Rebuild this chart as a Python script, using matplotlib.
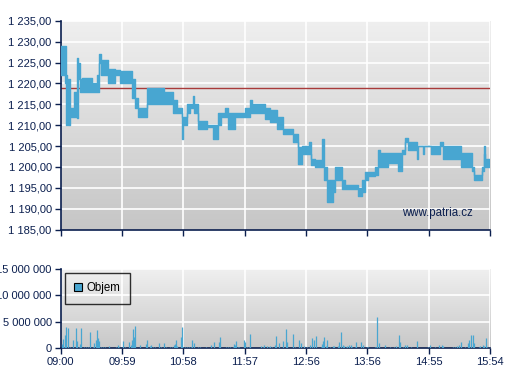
import numpy as np
import matplotlib
matplotlib.use("Agg")
import matplotlib.pyplot as plt
from matplotlib.patches import Patch

plt.rcParams['font.family'] = ['Liberation Sans', 'DejaVu Sans']

# ---------------- data ----------------
# time axis: minutes after 09:00 (session 09:00 - 15:54)
time_labels = ["09:00", "09:59", "10:58", "11:57", "12:56", "13:56", "14:55", "15:54"]
session_minutes = 414
ref_price = 1219.0

# price path as step segments: start minute, low and high of the trading range within the segment
seg_t = [0, 4, 5.5, 6.5, 7.5, 8.5, 12.5, 15.5, 16.5, 18.5,
         20.5, 30, 35, 36.5, 39, 46, 52, 57, 68.5, 71.5,
         74.5, 83, 100, 108, 112, 116.5, 117.5, 121.5, 124.5, 128,
         129, 132, 141, 146.5, 152, 155, 158.5, 161, 168, 177.5,
         182.5, 184.5, 194, 197, 202, 209, 214, 224, 229, 232.5,
         239, 241, 245, 252, 253.5, 256.5, 262.5, 264.5, 271, 274,
         286.5, 290.5, 293.5, 296.5, 303, 306, 308, 316, 325, 329,
         332, 335, 343.5, 345, 349, 350.5, 357, 363, 365.5, 368.5,
         386, 396.5, 398.5, 406, 408, 409.5, 414]
seg_lo = [1222, 1220, 1210, 1220, 1210, 1212, 1212, 1211.7, 1221, 1218,
          1218, 1218, 1218, 1225, 1222, 1220, 1222, 1220, 1216.6, 1214,
          1212, 1215, 1215, 1213, 1213, 1206.8, 1210, 1213, 1214, 1214,
          1213, 1209, 1209.5, 1206.8, 1210, 1212, 1212, 1209, 1212, 1212,
          1213, 1213, 1213, 1211.5, 1210.8, 1209, 1208, 1206, 1200.8, 1203,
          1203, 1200.4, 1200, 1200, 1197, 1191.6, 1194, 1196.8, 1194.8, 1194.8,
          1193, 1194, 1196.8, 1197.8, 1198.1, 1200, 1200, 1201, 1199, 1203,
          1206, 1204, 1202, 1205, 1203, 1205, 1203, 1203, 1205, 1202,
          1200, 1199, 1197, 1199, 1203, 1200, 1200]
seg_hi = [1229, 1229, 1222, 1221, 1221, 1214, 1218, 1226, 1225, 1221,
          1221.3, 1220, 1222, 1227, 1225.5, 1223.5, 1223.2, 1223, 1221, 1216.6,
          1214, 1219, 1218, 1216, 1214, 1212, 1212, 1215, 1215, 1217,
          1215, 1211, 1210, 1210, 1213, 1213, 1214, 1213, 1213, 1214,
          1216, 1215, 1215, 1214, 1213.6, 1212, 1209, 1208, 1204.8, 1205,
          1206, 1202, 1201.6, 1206.8, 1200, 1196.8, 1197, 1200, 1196.8, 1195.8,
          1195, 1196.8, 1198.8, 1198.8, 1200, 1204, 1203.4, 1203.4, 1203.4, 1204,
          1207, 1206, 1205, 1205, 1205, 1205, 1205, 1205, 1206, 1205,
          1203.4, 1200, 1198.2, 1200, 1205, 1202, 1202]

# traded volume (millions of shares) per minute bar
vol_t = [1, 2, 3, 4, 5, 7, 9, 12, 15, 16,
         18, 19, 20, 22, 24, 26, 28, 31, 32, 34,
         35, 36, 37, 39, 41, 43, 47, 53, 55, 56,
         60, 62, 66, 68, 69, 70, 71, 72, 76, 82,
         83, 86, 87, 89, 91, 95, 97, 100, 102, 105,
         107, 109, 110, 111, 112, 116, 117, 118, 120, 122,
         124, 126, 127, 129, 132, 134, 140, 145, 148, 153,
         154, 159, 161, 163, 166, 167, 168, 169, 171, 172,
         177, 178, 180, 182, 183, 193, 195, 196, 199, 201,
         202, 204, 207, 208, 211, 214, 217, 218, 224, 226,
         230, 232, 235, 238, 240, 242, 244, 246, 251, 252,
         253, 254, 256, 257, 260, 263, 264, 267, 268, 270,
         272, 273, 275, 276, 278, 280, 281, 284, 285, 290,
         292, 295, 296, 303, 304, 305, 307, 313, 318, 321,
         323, 326, 327, 330, 332, 334, 338, 344, 354, 356,
         361, 365, 368, 369, 378, 380, 382, 384, 386, 390,
         393, 394, 396, 398, 399, 403, 404, 407, 408, 410, 411]
vol_m = [0.76, 1.7, 0.25, 2.46, 3.9, 3.78, 0.25, 1.5, 3.78, 1.4,
         0.25, 0.76, 3.78, 0.25, 0.25, 0.25, 3.0, 0.25, 0.9, 1.5,
         3.4, 1.8, 1.3, 0.25, 0.25, 0.25, 0.38, 0.13, 0.63, 0.25,
         1.3, 0.25, 1.13, 0.5, 1.5, 3.65, 2.14, 4.16, 0.5, 0.76,
         1.5, 0.38, 0.5, 0.25, 0.13, 0.9, 0.25, 0.9, 0.25, 0.25,
         0.25, 0.5, 0.76, 1.5, 0.38, 2.0, 3.9, 0.25, 0.13, 0.25,
         0.25, 0.13, 1.5, 0.9, 0.25, 0.13, 0.13, 0.5, 1.13, 1.13,
         2.0, 0.25, 0.25, 0.25, 0.25, 0.76, 0.5, 1.26, 0.13, 0.13,
         1.5, 1.13, 0.25, 0.25, 2.65, 0.38, 0.25, 0.5, 0.38, 0.25,
         0.38, 0.25, 0.5, 2.27, 0.9, 1.4, 3.53, 1.13, 2.65, 0.25,
         1.5, 0.9, 0.38, 0.13, 0.5, 1.89, 1.5, 2.27, 0.13, 0.76,
         1.26, 2.0, 0.38, 1.5, 0.25, 0.38, 0.38, 0.38, 1.13, 3.02,
         0.5, 0.38, 0.25, 0.38, 0.5, 0.5, 0.25, 0.25, 1.13, 1.13,
         0.5, 0.25, 0.13, 0.13, 0.25, 5.8, 0.9, 0.5, 0.25, 0.25,
         0.38, 2.4, 1.13, 0.25, 0.5, 0.5, 0.13, 1.4, 0.13, 0.5,
         0.25, 0.5, 0.5, 0.38, 0.13, 0.13, 0.38, 0.5, 1.13, 0.25,
         0.9, 1.5, 2.4, 2.52, 0.9, 0.25, 0.38, 0.5, 0.38, 1.89, 0.25]

price_ticks = [1185, 1190, 1195, 1200, 1205, 1210, 1215, 1220, 1225, 1230, 1235]
vol_ticks = [0, 5, 10, 15]
vol_labels = ["0", "5 000 000", "10 000 000", "15 000 000"]

# ---------------- style ----------------
BLUE = '#48a6d1'
NAVY = '#0b1f4f'
W, H = 507, 380

fig = plt.figure(figsize=(W / 100, H / 100), dpi=100)
fig.patch.set_facecolor('white')


def ax_rect(l, t, r, b):
    return [l / W, 1 - b / H, (r - l) / W, (b - t) / H]


def gradient(ax, top='#efefef', bottom='#c6c6c6'):
    c1 = np.array(matplotlib.colors.to_rgb(top))
    c2 = np.array(matplotlib.colors.to_rgb(bottom))
    f = np.linspace(0, 1, 256)[:, None]
    img = (c1 * (1 - f) + c2 * f)[:, None, :]
    ax.imshow(img, extent=[0, 1, 0, 1], transform=ax.transAxes, aspect='auto',
              zorder=0, interpolation='bilinear')


def style(ax):
    for s in ['top', 'right']:
        ax.spines[s].set_visible(False)
    for s in ['left', 'bottom']:
        ax.spines[s].set_color(NAVY)
        ax.spines[s].set_linewidth(1.2)
    ax.tick_params(axis='both', colors=NAVY, labelcolor=NAVY, length=4,
                   width=1, labelsize=8.0, direction='out', pad=2.5)


tick_pos = [k * session_minutes / 7 for k in range(8)]

# ---- price panel ----
ax = fig.add_axes(ax_rect(60.7, 20.7, 490, 229.7))
gradient(ax)
style(ax)
ax.set_xlim(0, session_minutes)
ax.set_ylim(1185, 1235)
ax.set_yticks(price_ticks)
ax.set_yticklabels([f"{p // 1000} {p % 1000:03d},00" for p in price_ticks])
ax.set_xticks(tick_pos)
ax.set_xticklabels([])
for p in price_ticks[1:]:
    ax.axhline(p, color='white', lw=1.2, zorder=1)
for t in tick_pos[1:]:
    ax.axvline(t, color='white', lw=1.2, zorder=1)
ax.axhline(ref_price, color='#a83a3a', lw=1.0, zorder=2)

st = np.array(seg_t)
lo = np.array(seg_lo)
hi = np.array(seg_hi)
ax.fill_between(st, lo, hi, step='post', color=BLUE, lw=0, zorder=3)
ax.step(st, hi, where='post', color=BLUE, lw=1.0, zorder=3)
ax.step(st, lo, where='post', color=BLUE, lw=1.0, zorder=3)

ax.text(472.7 / W, 1 - 213 / H, "www.patria.cz", transform=fig.transFigure,
        ha='right', va='center', color=NAVY, fontsize=8.3)

# ---- volume panel ----
av = fig.add_axes(ax_rect(60.7, 268.7, 490, 348))
gradient(av, '#f0f0f0', '#c8c8c8')
style(av)
av.set_xlim(0, session_minutes)
av.set_ylim(0, 15)
av.set_yticks(vol_ticks)
av.set_yticklabels(vol_labels)
av.set_xticks(tick_pos)
av.set_xticklabels(time_labels)
for v in vol_ticks[1:]:
    av.axhline(v, color='white', lw=1.2, zorder=1)
for t in tick_pos[1:]:
    av.axvline(t, color='white', lw=1.2, zorder=1)
av.vlines(vol_t, 0, vol_m, colors=BLUE, lw=0.9, zorder=3)

leg = av.legend(handles=[Patch(facecolor=BLUE, edgecolor='black', lw=0.8)],
                labels=['Objem'], loc='upper left', bbox_to_anchor=(0.01, 0.945),
                frameon=True, fancybox=False, edgecolor='black', facecolor='none',
                borderpad=0.8, handlelength=0.7, handleheight=0.7,
                handletextpad=0.4, borderaxespad=0, fontsize=8.3)
leg.get_frame().set_linewidth(1.0)
for txt in leg.get_texts():
    txt.set_color('black')

fig.savefig('out.png', dpi=100)
